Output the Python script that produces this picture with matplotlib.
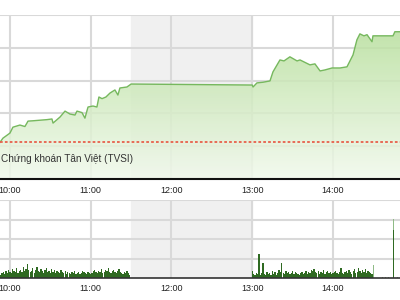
import numpy as np
import matplotlib
matplotlib.use("Agg")
import matplotlib.pyplot as plt
from matplotlib.colors import LinearSegmentedColormap

plt.rcParams["font.family"] = ["Liberation Sans", "DejaVu Sans"]

# minutes after 10:00 and index level
price_t = [-7.4, -5.2, 0, 2.2, 7.4, 11.1, 12.6, 13.4, 17.1, 24.5, 27.5, 31.2, 32, 37.2,
           40.9, 44.6, 48.3, 49.8, 53.5, 55.7, 58, 61.7, 64.6, 66.1, 68.4, 71.3, 74.3,
           78, 80.2, 81.7, 86.9, 90, 180, 180.6, 183.5, 188, 193.2, 195.4, 200.6, 203.6,
           208, 213.3, 215.5, 222.9, 226.6, 230.4, 234, 239.3, 245.2, 250.4, 254.9,
           257.8, 260, 263, 265.3, 269, 269.7, 275, 284.6, 286, 289.8]
price_v = [570.24, 570.49, 570.80, 571.16, 571.29, 571.20, 571.41, 571.53, 571.55, 571.60,
           571.62, 571.66, 571.41, 571.78, 572.14, 571.96, 571.90, 572.14, 572.05, 571.71,
           572.39, 572.45, 572.39, 573.00, 572.90, 573.00, 573.24, 573.43, 573.12, 573.55,
           573.61, 573.79, 573.73, 573.61, 573.86, 573.90, 573.98, 574.53, 575.26, 575.20,
           575.45, 575.20, 575.26, 574.96, 575.02, 574.59, 574.65, 574.77, 574.77, 574.84,
           575.57, 576.49, 576.85, 576.73, 576.80, 576.37, 576.73, 576.73, 576.73, 576.98,
           576.98]
ref_level = 570.24

hour_ticks = [0, 60, 120, 180, 240]
hour_labels = ["10:00", "11:00", "12:00", "13:00", "14:00"]

# volume per minute, morning session starting at -7 min, afternoon at 180 min
vol_am = [3, 5, 6, 4, 7, 5, 8, 6, 5, 9, 7, 6, 10, 5, 7, 8, 6, 11, 7, 9, 14, 8, 6, 7, 10,
          5, 8, 11, 7, 6, 9, 7, 5, 8, 10, 6, 7, 5, 9, 6, 8, 5, 7, 6, 5, 8, 6, 5, 7, 4,
          6, 5, 4, 6, 5, 7, 4, 5, 6, 4, 5, 7, 6, 5, 4, 6, 5, 4, 5, 7, 8, 6, 5, 7, 6,
          9, 5, 6, 8, 7, 10, 6, 5, 7, 8, 6, 5, 7, 9, 6, 5, 4, 6, 5, 7, 5, 3]
vol_pm = [7, 4, 3, 5, 4, 25, 3, 5, 15, 4, 3, 6, 4, 5, 3, 7, 4, 6, 3, 5, 8, 6, 15, 5,
          4, 7, 5, 6, 4, 5, 7, 4, 6, 5, 4, 3, 5, 6, 4, 5, 7, 4, 6, 5, 8, 7, 9, 6, 5,
          7, 4, 6, 5, 8, 4, 6, 7, 5, 6, 4, 5, 6, 7, 5, 4, 6, 10, 5, 4, 6, 7, 5, 8, 6,
          4, 7, 9, 5, 6, 10, 7, 5, 8, 6, 9, 5, 7, 6, 5, 4]
vol_late_t = [270, 277, 279, 281, 285, 288]
vol_late_v = [13, 1, 1, 1, 61, 1]

fig = plt.figure(figsize=(4, 3), dpi=100)
ax = fig.add_axes([0, 121 / 300, 1, 164 / 300])
axv = fig.add_axes([0, 22 / 300, 1, 78 / 300])

x0, x1 = -7.4, 289.8
grid_c = "#d9d9d9"

# top panel
ax.set_xlim(x0, x1)
ax.set_ylim(568, 578)
ax.axvspan(90, 180, color="#f0f0f0", zorder=0)
for y in [570, 572, 574, 576, 578]:
    ax.axhline(y, color=grid_c, lw=1.5, zorder=1)
for t in hour_ticks:
    ax.axvline(t, color=grid_c, lw=1.5, zorder=1)

cmap = LinearSegmentedColormap.from_list("g", ["#f1f9ec", "#b5de99"])
grad = np.linspace(0, 1, 256).reshape(-1, 1)
img = ax.imshow(grad, extent=[x0, x1, 568, 577.5], origin="lower", aspect="auto",
                cmap=cmap, alpha=0.85, zorder=2)
poly = ax.fill_between(price_t, price_v, 568, color="none", lw=0)
path = poly.get_paths()[0]
img.set_clip_path(path, transform=ax.transData)
ax.plot(price_t, price_v, color="#76b85e", lw=1.0, zorder=3)
ax.axhline(ref_level, color="#e8604c", lw=1.3, ls=(0, (1.5, 1.2)), zorder=4)

ax.text(0.002, 569.25, "Chứng khoán Tân Việt (TVSI)", fontsize=7.2, color="#333333",
        va="center", ha="left", zorder=5, transform=ax.get_yaxis_transform())

for s in ["top", "left", "right"]:
    ax.spines[s].set_visible(False)
ax.spines["bottom"].set_color("#111111")
ax.spines["bottom"].set_linewidth(1.5)
ax.spines["bottom"].set_zorder(6)
ax.set_yticks([])
ax.set_xticks(hour_ticks)
ax.set_xticklabels(hour_labels, fontsize=6.5, color="#222222")
ax.tick_params(axis="x", length=0, pad=5)

# volume panel
axv.set_xlim(x0, x1)
axv.set_ylim(0, 80)
axv.axvspan(90, 180, color="#f0f0f0", zorder=0)
for y in [20, 40, 60, 80]:
    axv.axhline(y, color=grid_c, lw=1.5, zorder=1)
for t in hour_ticks:
    axv.axvline(t, color=grid_c, lw=1.5, zorder=1)

am_t = np.arange(len(vol_am)) - 7
pm_t = np.arange(len(vol_pm)) + 180
axv.bar(am_t, vol_am, width=0.95, color="#2f6a22", lw=0, zorder=3)
axv.bar(pm_t, vol_pm, width=0.95, color="#2f6a22", lw=0, zorder=3)
axv.bar(vol_late_t, vol_late_v, width=0.95, color="#8fbb86", lw=0, zorder=3)
axv.bar([285], [49], width=0.95, color="#2f6a22", lw=0, zorder=4)

for s in ["top", "left", "right"]:
    axv.spines[s].set_visible(False)
axv.spines["bottom"].set_color("#333333")
axv.spines["bottom"].set_linewidth(1.2)
axv.spines["bottom"].set_zorder(6)
axv.set_yticks([])
axv.set_xticks(hour_ticks)
axv.set_xticklabels(hour_labels, fontsize=6.5, color="#222222")
axv.tick_params(axis="x", length=0, pad=4)

fig.savefig("out.png", dpi=100)
